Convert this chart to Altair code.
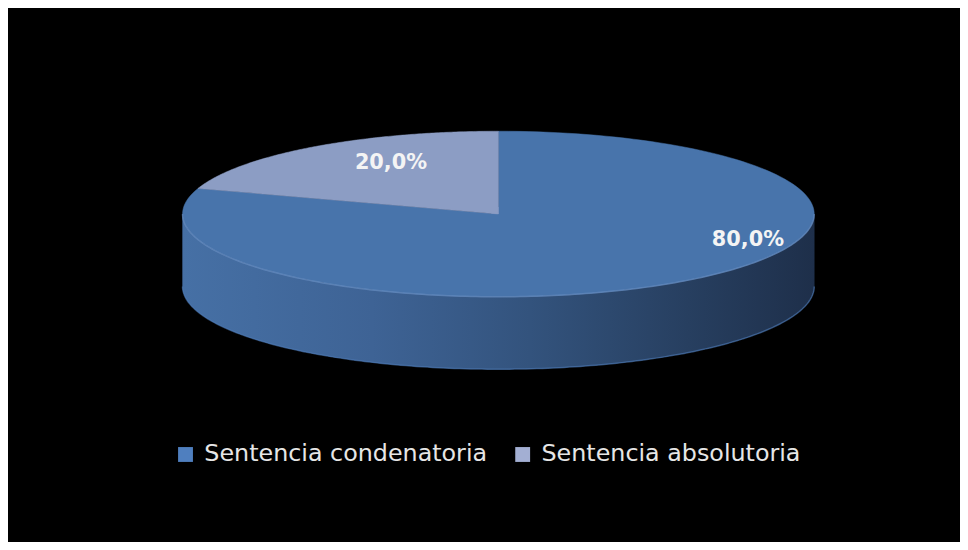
import altair as alt
import pandas as pd

# ---- data ----
categories = ["Sentencia condenatoria", "Sentencia absolutoria"]
values = [80.0, 20.0]

# ---- style / layout ----
top_colors = ["#4874ab", "#8c9dc4"]
legend_colors = ["#4f7fbf", "#a3afd3"]
W, H = 960, 534
CX, CY, RX, RY, DEPTH = 494.5, 205.5, 318.5, 83.5, 73
N = 160
FONT = "DejaVu Sans"
# label anchor in ellipse-relative coords (x to the right, y upward)
LABEL_OFFSETS = [(0.79, -0.31), (-0.34, 0.61)]

df = pd.DataFrame({"category": categories, "value": values,
                   "idx": list(range(len(categories)))})
lab_df = df.assign(lx=[o[0] for o in LABEL_OFFSETS], ly=[o[1] for o in LABEL_OFFSETS])

xsc = alt.Scale(domain=[0, W], nice=False, zero=False)
ysc = alt.Scale(domain=[0, H], nice=False, zero=False, reverse=True)
xs = alt.X("x:Q", scale=xsc, axis=None)
ys = alt.Y("y:Q", scale=ysc, axis=None)


def with_angles(ch):
    return (ch.transform_joinaggregate(total="sum(value)")
              .transform_window(cum="sum(value)", sort=[alt.SortField("idx")], frame=[None, 0])
              .transform_calculate(
                  a0="PI/2 - 2*PI*(datum.cum - datum.value)/datum.total",
                  a1="PI/2 - 2*PI*datum.cum/datum.total"))


def slice_points(ch):
    return (with_angles(ch)
            .transform_calculate(pts=f"sequence(0, {N + 2})")
            .transform_flatten(["pts"])
            .transform_calculate(
                t=f"datum.a0 + (datum.a1 - datum.a0)*(datum.pts - 1)/{N - 1}",
                x=f"(datum.pts == 0 || datum.pts == {N + 1}) ? {CX} : {CX} + {RX}*cos(datum.t)",
                y=f"(datum.pts == 0 || datum.pts == {N + 1}) ? {CY} : {CY} - {RY}*sin(datum.t)"))


# hidden squares (behind the pie) that carry the legend
legend_layer = alt.Chart(df).mark_square(size=200, opacity=1).transform_calculate(
    x=str(CX), y=str(CY)
).encode(
    x=xs, y=ys,
    color=alt.Color("category:N", sort=categories,
                    scale=alt.Scale(domain=categories, range=legend_colors),
                    legend=alt.Legend(title=None, orient="none", direction="horizontal",
                                      legendX=167, legendY=436,
                                      symbolType="square", symbolSize=225,
                                      symbolStrokeWidth=0, labelFont=FONT,
                                      labelFontSize=24, labelColor="#e6e6e6",
                                      labelOffset=7, columnPadding=23, labelLimit=400))
)

# side wall of the cylinder (front half)
side = alt.Chart(alt.sequence(0, 181, as_="k")).transform_calculate(
    t="PI + PI*datum.k/180",
).transform_calculate(
    x=f"{CX} + {RX}*cos(datum.t)",
    y=f"{CY} - {RY}*sin(datum.t)",
    yb=f"{CY} - {RY}*sin(datum.t) + {DEPTH}",
)
side_plain = side.mark_area(color="#33537d").encode(
    x=xs, y=ys, y2=alt.Y2("yb:Q"))
side_grad = side.mark_area(
    color=alt.Gradient(gradient="linear", x1=0, x2=1, y1=0, y2=0,
                       stops=[alt.GradientStop(color="#4670a5", offset=0),
                              alt.GradientStop(color="#3e6395", offset=0.3),
                              alt.GradientStop(color="#33537d", offset=0.55),
                              alt.GradientStop(color="#273f60", offset=0.8),
                              alt.GradientStop(color="#1e2f4a", offset=1)])
).encode(x=xs, y=ys, y2=alt.Y2("yb:Q"))
side_bottom = side.mark_line(stroke="#4f7cb8", strokeWidth=1.5, opacity=0.6).encode(
    x=xs, y=alt.Y("yb:Q", scale=ysc, axis=None), order="k:Q")

# top face slices
slice_layers = []
for i, cat in enumerate(categories):
    slice_layers.append(
        slice_points(alt.Chart(df)).transform_filter(alt.datum.category == cat)
        .mark_line(fill=top_colors[i], stroke=top_colors[i], strokeWidth=0.5)
        .encode(x=xs, y=ys, order="pts:Q")
    )

top_edge = side.mark_line(stroke="#6e93c6", strokeWidth=1.5, opacity=0.6).encode(
    x=xs, y=ys, order="k:Q")

labels = with_angles(alt.Chart(lab_df)).transform_calculate(
    x=f"{CX} + {RX}*datum.lx",
    y=f"{CY} - {RY}*datum.ly",
    txt="replace(format(datum.value/datum.total, '.1%'), '.', ',')",
).mark_text(font=FONT, fontSize=21, fontWeight="bold", color="#f4f4f4").encode(
    x=xs, y=ys, text="txt:N")

chart = alt.layer(legend_layer, side_plain, side_grad, side_bottom, *slice_layers,
                  top_edge, labels).properties(
    width=W, height=H, padding=0, autosize="none", background="#000000"
).configure_view(stroke=None)

chart.save("out.html", embed_options={"renderer": "svg", "actions": False})
